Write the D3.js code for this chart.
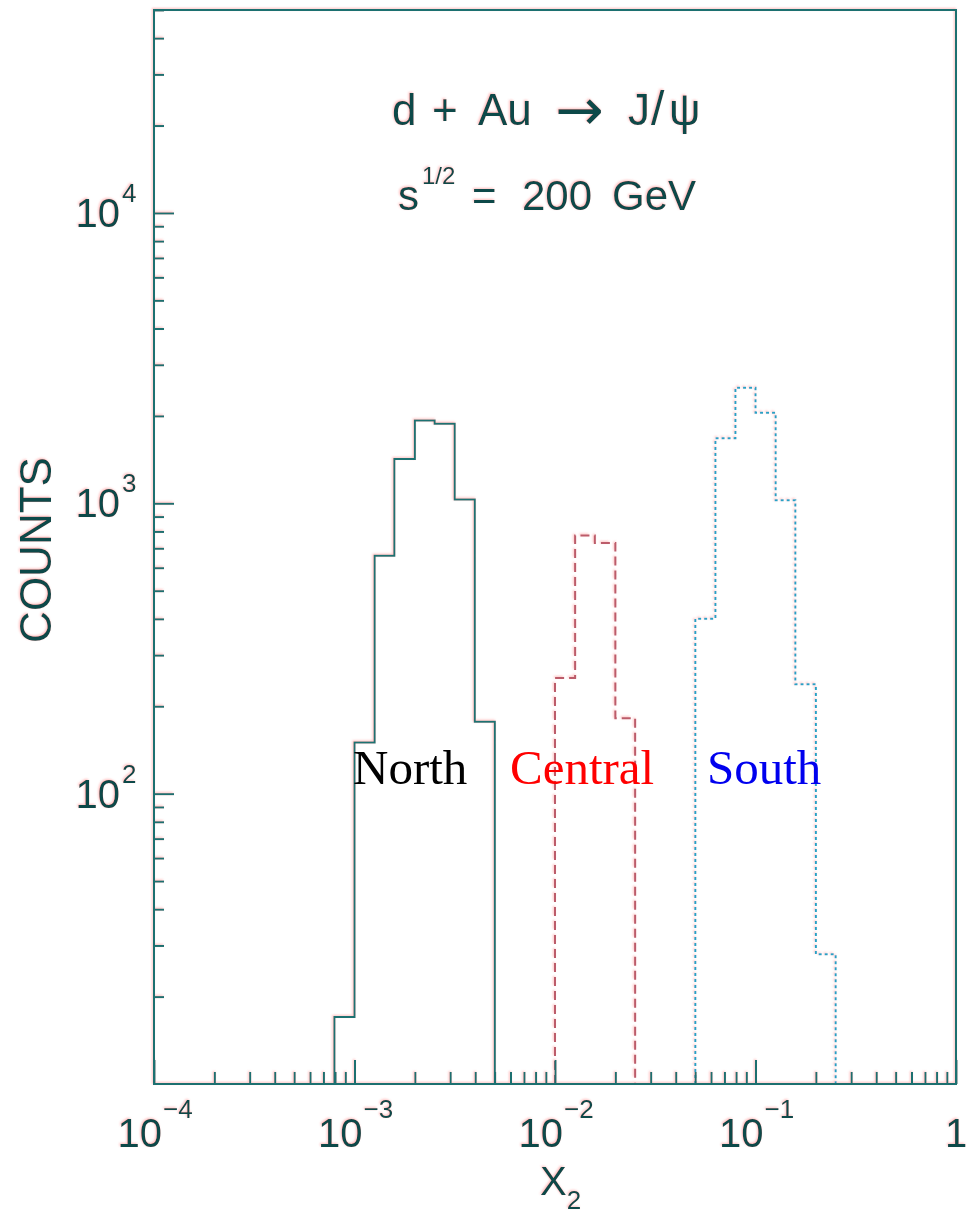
<!DOCTYPE html>
<html>
<head>
<meta charset="utf-8">
<script src="https://cdn.jsdelivr.net/npm/d3@7"></script>
<style>
    body { margin: 0; background: #fff; }
    svg { display: block; }
    .sans { font-family: "Liberation Sans", Arial, sans-serif; fill: #0e4848; }
    .serif { font-family: "Liberation Serif", "Times New Roman", serif; }
</style>
</head>
<body>
<div class="container"></div>
<script>
// bin edges (x2) and counts
var northEdges = [0.000794, 0.001, 0.00126, 0.00158, 0.002, 0.00251, 0.00316, 0.00398, 0.00501];
var northCounts = [17, 150, 660, 1420, 1930, 1880, 1030, 177];

var centralEdges = [0.01, 0.0126, 0.0158, 0.02, 0.0251];
var centralCounts = [250, 775, 730, 182];

var southEdges = [0.0501, 0.0631, 0.0794, 0.1, 0.126, 0.158, 0.2, 0.251];
var southCounts = [400, 1675, 2500, 2050, 1025, 238, 28];

var xMajor = [1e-4, 1e-3, 1e-2, 1e-1, 1];
var xLabels = ["−4", "−3", "−2", "−1", ""];
var yMajor = [1e2, 1e3, 1e4];
var yLabels = ["2", "3", "4"];

var chart = {
    config: {
        width: 971,
        height: 1217,
        left: 154,
        right: 956,
        top: 10,
        bottom: 1084,
        axisColor: "#1b7070",
        series: [
            { name: "North", edges: northEdges, counts: northCounts, color: "#1d7272", dash: null, label: "#000000", lx: 353 },
            { name: "Central", edges: centralEdges, counts: centralCounts, color: "#bc5c6a", dash: "9,5", label: "#ff0000", lx: 510 },
            { name: "South", edges: southEdges, counts: southCounts, color: "#25a2c6", dash: "3,3", label: "#0000ee", lx: 707 }
        ]
    }
};

var c = chart.config;

var x = d3.scaleLog().domain([1e-4, 1]).range([c.left, c.right]);
var y = d3.scaleLog().domain([10, 50000]).range([c.bottom, c.top]);

var svg = d3.select(".container").append("svg")
    .attr("width", c.width)
    .attr("height", c.height);

// the scan has a faint pink fringe around the plotted ink
var filter = svg.append("defs").append("filter").attr("id", "fringe")
    .attr("x", "-5%").attr("y", "-5%").attr("width", "110%").attr("height", "110%");
filter.append("feOffset").attr("in", "SourceAlpha").attr("dx", -1).attr("dy", -1).attr("result", "off");
filter.append("feGaussianBlur").attr("in", "off").attr("stdDeviation", 0.8).attr("result", "blur");
filter.append("feFlood").attr("flood-color", "#ff7070").attr("flood-opacity", 0.45);
filter.append("feComposite").attr("in2", "blur").attr("operator", "in").attr("result", "pink");
var merge = filter.append("feMerge");
merge.append("feMergeNode").attr("in", "pink");
merge.append("feMergeNode").attr("in", "SourceGraphic");

var plot = svg.append("g").attr("filter", "url(#fringe)");

// histograms
var line = d3.line()
    .x((d) => x(d.x))
    .y((d) => y(d.y))
    .curve(d3.curveStepAfter);

c.series.forEach((s) => {
    var pts = [{ x: s.edges[0], y: 10 }];
    s.counts.forEach((v, i) => pts.push({ x: s.edges[i], y: v }));
    pts.push({ x: s.edges[s.edges.length - 1], y: s.counts[s.counts.length - 1] });
    pts.push({ x: s.edges[s.edges.length - 1], y: 10 });
    plot.append("path")
        .attr("d", line(pts))
        .attr("fill", "none")
        .attr("stroke", s.color)
        .attr("stroke-width", 2)
        .attr("stroke-dasharray", s.dash);
});

// frame
plot.append("rect")
    .attr("x", c.left).attr("y", c.top)
    .attr("width", c.right - c.left).attr("height", c.bottom - c.top)
    .attr("fill", "none")
    .attr("stroke", c.axisColor)
    .attr("stroke-width", 2);

// x ticks, pointing up into the plot
var isMajor = (v) => Math.abs(Math.log10(v) - Math.round(Math.log10(v))) < 1e-6;
var styleTicks = (g) => {
    g.select(".domain").remove();
    g.selectAll("line").attr("stroke", c.axisColor).attr("stroke-width", 2);
};
plot.append("g")
    .attr("transform", `translate(0,${c.bottom})`)
    .call(d3.axisBottom(x).tickValues(x.ticks().filter((v) => !isMajor(v))).tickSizeInner(-12).tickSizeOuter(0).tickFormat(""))
    .call(styleTicks);
plot.append("g")
    .attr("transform", `translate(0,${c.bottom})`)
    .call(d3.axisBottom(x).tickValues(xMajor).tickSizeInner(-24).tickSizeOuter(0).tickFormat(""))
    .call(styleTicks);

// y ticks, pointing right into the plot
plot.append("g")
    .attr("transform", `translate(${c.left},0)`)
    .call(d3.axisLeft(y).tickValues(y.ticks().filter((v) => !isMajor(v))).tickSizeInner(-10).tickSizeOuter(0).tickFormat(""))
    .call(styleTicks);
plot.append("g")
    .attr("transform", `translate(${c.left},0)`)
    .call(d3.axisLeft(y).tickValues(yMajor).tickSizeInner(-20).tickSizeOuter(0).tickFormat(""))
    .call(styleTicks);

// x tick labels
xMajor.forEach((v, i) => {
    var px = x(v);
    if (xLabels[i] === "") {
        plot.append("text").attr("class", "sans")
            .attr("x", px).attr("y", 1147).attr("text-anchor", "middle")
            .attr("font-size", 40).text("1");
        return;
    }
    plot.append("text").attr("class", "sans")
        .attr("x", px + 8).attr("y", 1147).attr("text-anchor", "end")
        .attr("font-size", 40).text("10");
    plot.append("text").attr("class", "sans")
        .attr("x", px + 9).attr("y", 1118).attr("text-anchor", "start")
        .attr("font-size", 26).text(xLabels[i]);
});

// y tick labels
yMajor.forEach((v, i) => {
    var py = y(v);
    plot.append("text").attr("class", "sans")
        .attr("x", 120).attr("y", py + 14).attr("text-anchor", "end")
        .attr("font-size", 40).text("10");
    plot.append("text").attr("class", "sans")
        .attr("x", 122).attr("y", py - 11).attr("text-anchor", "start")
        .attr("font-size", 26).text(yLabels[i]);
});

// axis titles
plot.append("text").attr("class", "sans")
    .attr("transform", "translate(51,550) rotate(-90)")
    .attr("text-anchor", "middle")
    .attr("font-size", 44)
    .text("COUNTS");

var xt = plot.append("text").attr("class", "sans")
    .attr("x", 540).attr("y", 1195).attr("font-size", 40);
xt.append("tspan").text("X");
xt.append("tspan").attr("font-size", 26).attr("dy", 14).text("2");

// header, placed piece by piece as in the picture
var head1 = [
    { t: "d", x: 392, size: 44 },
    { t: "+", x: 432, size: 44 },
    { t: "Au", x: 478, size: 44 },
    { t: "J", x: 628, size: 44 },
    { t: "/", x: 651, size: 48 },
    { t: "\u03C8", x: 669, size: 44 }
];
head1.forEach((p) => {
    plot.append("text").attr("class", "sans")
        .attr("x", p.x).attr("y", 125)
        .attr("font-size", p.size)
        .text(p.t);
});
plot.append("text")
    .attr("x", 555).attr("y", 130)
    .attr("font-family", "DejaVu Sans, sans-serif")
    .attr("fill", "#0e4848")
    .attr("font-size", 58)
    .text("\u2192");

var head2 = [
    { t: "s", x: 398, y: 210, size: 42 },
    { t: "1/2", x: 422, y: 184, size: 24 },
    { t: "=", x: 472, y: 210, size: 42 },
    { t: "200", x: 522, y: 210, size: 42 },
    { t: "GeV", x: 612, y: 210, size: 42 }
];
head2.forEach((p) => {
    plot.append("text").attr("class", "sans")
        .attr("x", p.x).attr("y", p.y)
        .attr("font-size", p.size)
        .text(p.t);
});

// series labels
c.series.forEach((s) => {
    svg.append("text").attr("class", "serif")
        .attr("x", s.lx).attr("y", 784)
        .attr("font-size", 49)
        .attr("fill", s.label)
        .text(s.name);
});
</script>
</body>
</html>
